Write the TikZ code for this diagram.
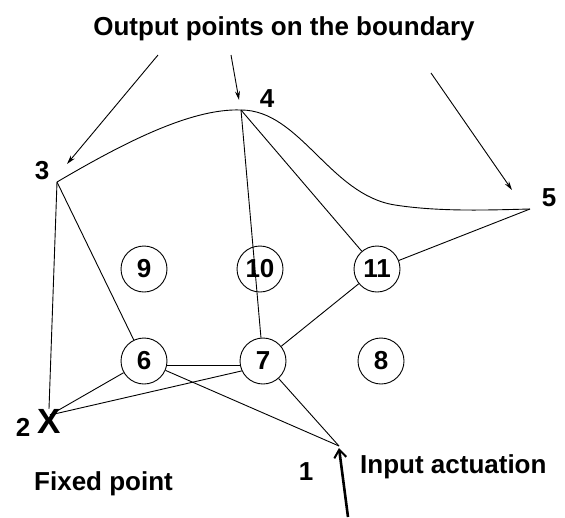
\documentclass[tikz,border=0pt]{standalone}
\usepackage{fontspec}
\setmainfont{Liberation Sans}
\usetikzlibrary{arrows.meta}
\tikzset{
  link/.style={line width=0.9pt},
  pointer/.style={line width=0.9pt,-{Stealth[length=9pt,width=5pt]}},
  cell/.style={circle,draw,line width=0.9pt,minimum size=46pt,inner sep=0pt,
    font=\fontsize{26}{28}\selectfont\bfseries},
  lbl/.style={inner sep=0pt,anchor=base,font=\fontsize{26}{28}\selectfont\bfseries},
  txt/.style={inner sep=0pt,anchor=base west,font=\fontsize{26}{28}\selectfont\bfseries}
}
\begin{document}
\begin{tikzpicture}[x=1pt,y=-1pt]
\useasboundingbox (0,0) rectangle (565,517);

% boundary points
\coordinate (p1) at (339,446);
\coordinate (p2) at (50,415);
\coordinate (p3) at (57,182);
\coordinate (p4) at (241,110);
\coordinate (p5) at (530,209);

% interior cells
\node[cell] (n9)  at (144,269) {9};
\node[cell] (n10) at (260,269) {10};
\node[cell] (n11) at (377,269) {11};
\node[cell] (n6)  at (144,361) {6};
\node[cell] (n7)  at (263,361) {7};
\node[cell] (n8)  at (381,361) {8};

% fixed point mark
\node[inner sep=0pt,font=\fontsize{35}{36}\selectfont\bfseries] (x2) at (49,421) {X};

% curved output boundary 3 - 4 - 5
\draw[link] (p3) .. controls (120,145) and (190,108) .. (p4)
  .. controls (300,110) and (330,195) .. (395,205)
  .. controls (440,212) and (490,210) .. (p5);

% linkage bars
\draw[link] (p3) -- (x2.north);
\draw[link] (p3) -- (n6);
\draw[link] (p4) -- (n7);
\draw[link] (p4) -- (n11);
\draw[link] (n11) -- (p5);
\draw[link] (n11) -- (n7);
\draw[link] (n6.-12) -- (n7.192);
\draw[link] (p2) -- (n6);
\draw[link] (p2) -- (n7.205);
\draw[link] (n6) -- (p1);
\draw[link] (n7) -- (p1);

% point numbers
\node[lbl] (l1) at (306,480) {1};
\node[lbl] (l2) at (23,436) {2};
\node[lbl] (l3) at (42,179) {3};
\node[lbl] (l4) at (267,107) {4};
\node[lbl] (l5) at (549,206) {5};

% captions
\node[lbl] (title) at (284,35) {Output points on the boundary};
\node[txt] (fixed) at (34,490) {Fixed point};
\node[txt] (input) at (360,473) {Input actuation};

% pointers to the output points
\coordinate (a1) at (158,55);
\coordinate (a2) at (231,55);
\coordinate (a3) at (431,73);
\coordinate (t1) at (67,164);
\coordinate (t2) at (239,100);
\coordinate (t3) at (512,190);
\draw[pointer] (a1) -- (t1);
\draw[pointer] (a2) -- (t2);
\draw[pointer] (a3) -- (t3);

% input actuation arrow
\coordinate (tail) at (348,517);
\coordinate (tip) at (339,448);
\draw[line width=2.6pt,-{Straight Barb[length=8pt,width=12pt,line width=2pt]}] (tail) -- (tip);
\end{tikzpicture}
\end{document}
